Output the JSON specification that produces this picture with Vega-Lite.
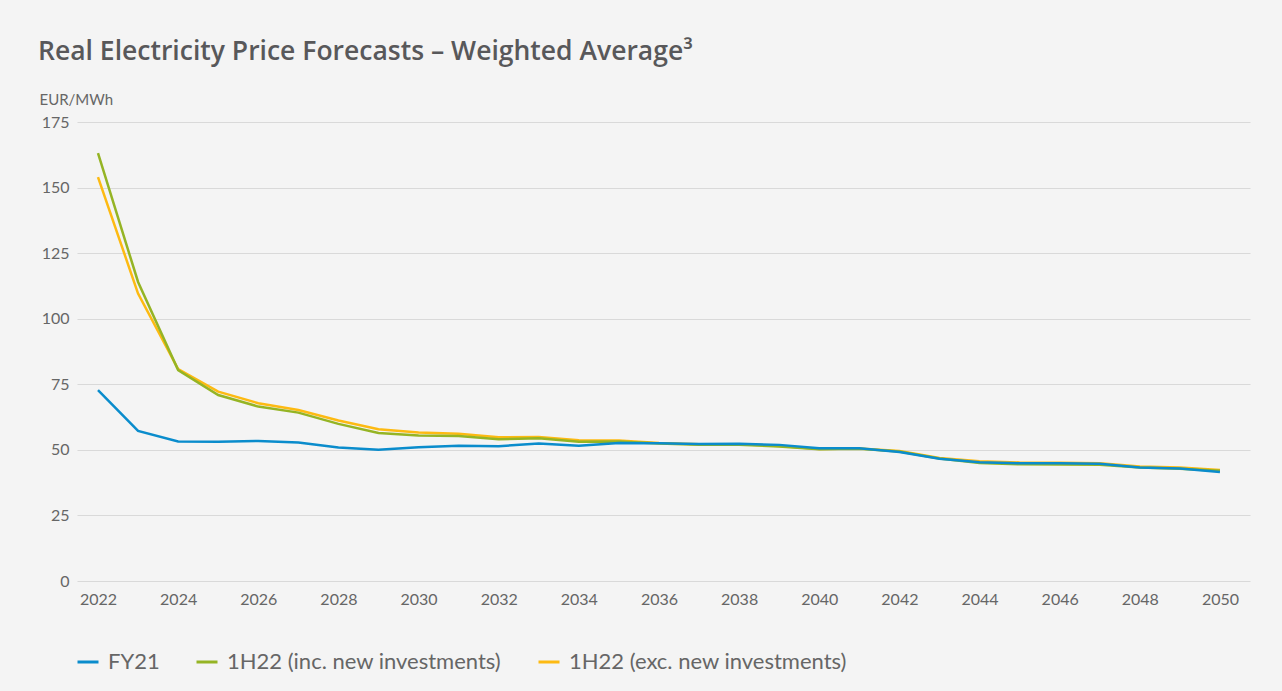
{
  "$schema": "https://vega.github.io/schema/vega-lite/v6.json",
  "width": 1173,
  "height": 459,
  "autosize": {"type": "none"},
  "padding": {"left": 77, "top": 122, "right": 32, "bottom": 110},
  "background": "#f4f4f4",
  "config": {"view": {"stroke": null}},
  "title": {
    "text": "Real Electricity Price Forecasts – Weighted Average³",
    "anchor": "start",
    "frame": "group",
    "dx": -39,
    "font": "Open Sans",
    "fontSize": 26.5,
    "fontWeight": 600,
    "color": "#58585a",
    "baseline": "alphabetic",
    "offset": 6
  },
  "datasets": {
    "prices": [
      {"year": 2022, "series": "FY21", "price": 72.8}, {"year": 2023, "series": "FY21", "price": 57.2}, {"year": 2024, "series": "FY21", "price": 53.2}, {"year": 2025, "series": "FY21", "price": 53.1}, {"year": 2026, "series": "FY21", "price": 53.4}, {"year": 2027, "series": "FY21", "price": 52.8}, {"year": 2028, "series": "FY21", "price": 50.9}, {"year": 2029, "series": "FY21", "price": 50.0}, {"year": 2030, "series": "FY21", "price": 51.0}, {"year": 2031, "series": "FY21", "price": 51.6}, {"year": 2032, "series": "FY21", "price": 51.4}, {"year": 2033, "series": "FY21", "price": 52.4}, {"year": 2034, "series": "FY21", "price": 51.6}, {"year": 2035, "series": "FY21", "price": 52.6}, {"year": 2036, "series": "FY21", "price": 52.5}, {"year": 2037, "series": "FY21", "price": 52.2}, {"year": 2038, "series": "FY21", "price": 52.3}, {"year": 2039, "series": "FY21", "price": 51.9}, {"year": 2040, "series": "FY21", "price": 50.6}, {"year": 2041, "series": "FY21", "price": 50.6}, {"year": 2042, "series": "FY21", "price": 49.2}, {"year": 2043, "series": "FY21", "price": 46.6}, {"year": 2044, "series": "FY21", "price": 45.3}, {"year": 2045, "series": "FY21", "price": 44.9}, {"year": 2046, "series": "FY21", "price": 44.9}, {"year": 2047, "series": "FY21", "price": 44.7}, {"year": 2048, "series": "FY21", "price": 43.3}, {"year": 2049, "series": "FY21", "price": 42.9}, {"year": 2050, "series": "FY21", "price": 41.6},
      {"year": 2022, "series": "1H22 (inc. new investments)", "price": 163.1}, {"year": 2023, "series": "1H22 (inc. new investments)", "price": 114.0}, {"year": 2024, "series": "1H22 (inc. new investments)", "price": 80.4}, {"year": 2025, "series": "1H22 (inc. new investments)", "price": 70.9}, {"year": 2026, "series": "1H22 (inc. new investments)", "price": 66.5}, {"year": 2027, "series": "1H22 (inc. new investments)", "price": 64.2}, {"year": 2028, "series": "1H22 (inc. new investments)", "price": 59.9}, {"year": 2029, "series": "1H22 (inc. new investments)", "price": 56.4}, {"year": 2030, "series": "1H22 (inc. new investments)", "price": 55.5}, {"year": 2031, "series": "1H22 (inc. new investments)", "price": 55.3}, {"year": 2032, "series": "1H22 (inc. new investments)", "price": 54.0}, {"year": 2033, "series": "1H22 (inc. new investments)", "price": 54.4}, {"year": 2034, "series": "1H22 (inc. new investments)", "price": 53.1}, {"year": 2035, "series": "1H22 (inc. new investments)", "price": 53.2}, {"year": 2036, "series": "1H22 (inc. new investments)", "price": 52.4}, {"year": 2037, "series": "1H22 (inc. new investments)", "price": 51.9}, {"year": 2038, "series": "1H22 (inc. new investments)", "price": 51.9}, {"year": 2039, "series": "1H22 (inc. new investments)", "price": 51.3}, {"year": 2040, "series": "1H22 (inc. new investments)", "price": 50.2}, {"year": 2041, "series": "1H22 (inc. new investments)", "price": 50.4}, {"year": 2042, "series": "1H22 (inc. new investments)", "price": 49.4}, {"year": 2043, "series": "1H22 (inc. new investments)", "price": 46.7}, {"year": 2044, "series": "1H22 (inc. new investments)", "price": 45.0}, {"year": 2045, "series": "1H22 (inc. new investments)", "price": 44.5}, {"year": 2046, "series": "1H22 (inc. new investments)", "price": 44.4}, {"year": 2047, "series": "1H22 (inc. new investments)", "price": 44.3}, {"year": 2048, "series": "1H22 (inc. new investments)", "price": 43.3}, {"year": 2049, "series": "1H22 (inc. new investments)", "price": 42.8}, {"year": 2050, "series": "1H22 (inc. new investments)", "price": 42.0},
      {"year": 2022, "series": "1H22 (exc. new investments)", "price": 154.0}, {"year": 2023, "series": "1H22 (exc. new investments)", "price": 109.6}, {"year": 2024, "series": "1H22 (exc. new investments)", "price": 80.8}, {"year": 2025, "series": "1H22 (exc. new investments)", "price": 72.2}, {"year": 2026, "series": "1H22 (exc. new investments)", "price": 67.8}, {"year": 2027, "series": "1H22 (exc. new investments)", "price": 65.2}, {"year": 2028, "series": "1H22 (exc. new investments)", "price": 61.2}, {"year": 2029, "series": "1H22 (exc. new investments)", "price": 57.9}, {"year": 2030, "series": "1H22 (exc. new investments)", "price": 56.6}, {"year": 2031, "series": "1H22 (exc. new investments)", "price": 56.1}, {"year": 2032, "series": "1H22 (exc. new investments)", "price": 54.8}, {"year": 2033, "series": "1H22 (exc. new investments)", "price": 54.9}, {"year": 2034, "series": "1H22 (exc. new investments)", "price": 53.7}, {"year": 2035, "series": "1H22 (exc. new investments)", "price": 53.6}, {"year": 2036, "series": "1H22 (exc. new investments)", "price": 52.6}, {"year": 2037, "series": "1H22 (exc. new investments)", "price": 52.1}, {"year": 2038, "series": "1H22 (exc. new investments)", "price": 52.1}, {"year": 2039, "series": "1H22 (exc. new investments)", "price": 51.5}, {"year": 2040, "series": "1H22 (exc. new investments)", "price": 50.3}, {"year": 2041, "series": "1H22 (exc. new investments)", "price": 50.5}, {"year": 2042, "series": "1H22 (exc. new investments)", "price": 49.6}, {"year": 2043, "series": "1H22 (exc. new investments)", "price": 46.9}, {"year": 2044, "series": "1H22 (exc. new investments)", "price": 45.7}, {"year": 2045, "series": "1H22 (exc. new investments)", "price": 45.2}, {"year": 2046, "series": "1H22 (exc. new investments)", "price": 45.1}, {"year": 2047, "series": "1H22 (exc. new investments)", "price": 44.9}, {"year": 2048, "series": "1H22 (exc. new investments)", "price": 43.7}, {"year": 2049, "series": "1H22 (exc. new investments)", "price": 43.3}, {"year": 2050, "series": "1H22 (exc. new investments)", "price": 42.3}
    ]
  },
  "data": {"name": "prices"},
  "encoding": {
    "x": {
      "field": "year",
      "type": "quantitative",
      "scale": {"domain": [2021.476, 2050.75], "nice": false, "zero": false},
      "axis": {
        "title": null,
        "values": [2022, 2024, 2026, 2028, 2030, 2032, 2034, 2036, 2038, 2040, 2042, 2044, 2046, 2048, 2050],
        "format": "d",
        "grid": false,
        "domain": false,
        "ticks": false,
        "labelPadding": 10,
        "labelFont": "Lato",
        "labelFontSize": 16,
        "labelColor": "#666666"
      }
    },
    "y": {
      "field": "price",
      "type": "quantitative",
      "scale": {"domain": [0, 175], "nice": false},
      "axis": {
        "title": "EUR/MWh",
        "titleAngle": 0,
        "titleAlign": "left",
        "titleBaseline": "alphabetic",
        "titleX": -38,
        "titleY": -18,
        "titleFont": "Lato",
        "titleFontSize": 15,
        "titleFontWeight": "normal",
        "titleColor": "#666666",
        "values": [0, 25, 50, 75, 100, 125, 150, 175],
        "grid": true,
        "gridColor": "#d9d9d9",
        "gridWidth": 1,
        "domain": false,
        "ticks": false,
        "labelPadding": 8,
        "labelFont": "Lato",
        "labelFontSize": 16,
        "labelColor": "#666666"
      }
    },
    "color": {
      "field": "series",
      "type": "nominal",
      "scale": {
        "domain": ["FY21", "1H22 (inc. new investments)", "1H22 (exc. new investments)"],
        "range": ["#0a8ccc", "#95b424", "#fdba12"]
      },
      "legend": {
        "title": null,
        "orient": "none",
        "direction": "horizontal",
        "legendX": -1,
        "legendY": 528,
        "symbolType": "stroke",
        "symbolSize": 441,
        "symbolStrokeWidth": 3,
        "labelFont": "Lato",
        "labelFontSize": 22,
        "labelLimit": 0,
        "labelColor": "#666666",
        "labelOffset": 8,
        "columnPadding": 30
      }
    }
  },
  "layer": [
    {"transform": [{"filter": {"field": "series", "equal": "1H22 (exc. new investments)"}}], "mark": {"type": "line", "strokeWidth": 2.5}},
    {"transform": [{"filter": {"field": "series", "equal": "1H22 (inc. new investments)"}}], "mark": {"type": "line", "strokeWidth": 2.5}},
    {"transform": [{"filter": {"field": "series", "equal": "FY21"}}], "mark": {"type": "line", "strokeWidth": 2.5}}
  ]
}
